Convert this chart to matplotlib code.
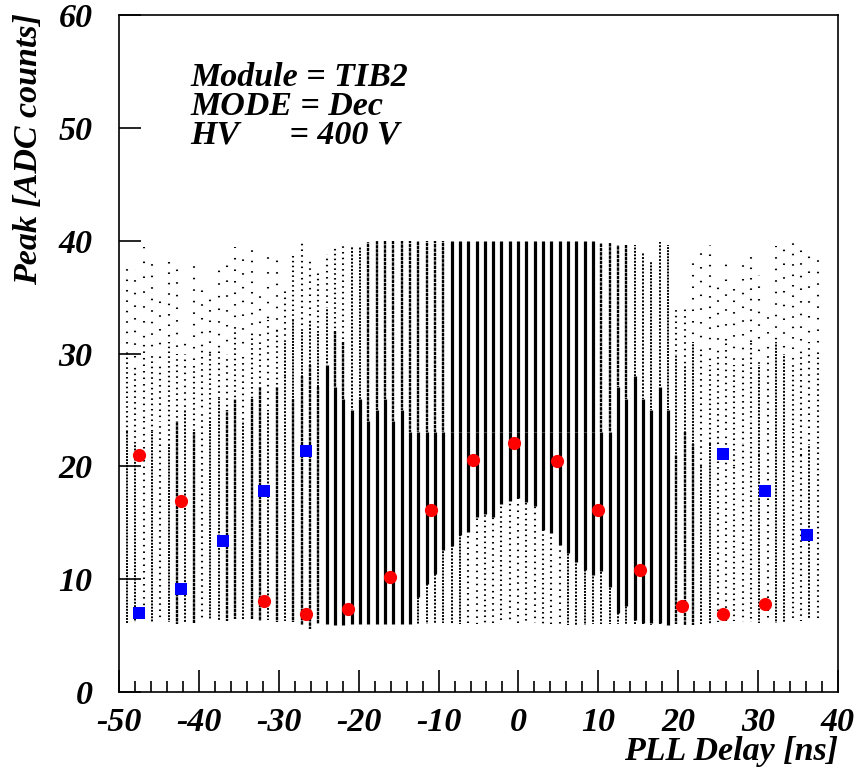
import numpy as np
import matplotlib
matplotlib.use("Agg")
import matplotlib.pyplot as plt
from matplotlib.ticker import MultipleLocator

plt.rcParams["font.family"] = "Liberation Serif"
plt.rcParams["font.weight"] = "bold"
plt.rcParams["font.style"] = "italic"
plt.rcParams["axes.unicode_minus"] = False
plt.rcParams["lines.scale_dashes"] = False

# PLL scan settings: one column of raw peaks per 25/24 ns step
delay_step = 25.0 / 24.0
delay_start = -49.0
n_steps = 84

# lowest / highest raw peak seen in each column
col_bottom = [6.1, 6.2, 6.3, 6.2, 6.3, 6.2, 6.0, 6.2, 6.1, 6.4,
              6.5, 6.4, 6.3, 6.5, 6.4, 6.5, 6.3, 6.4, 6.2, 6.3,
              6.2, 5.9, 5.6, 6.0, 6.0, 5.9, 5.9, 6.0, 6.0, 6.0,
              6.0, 6.0, 6.0, 6.0, 6.0, 6.0, 6.0, 6.0, 6.1, 6.0,
              6.0, 6.1, 6.0, 6.1, 6.1, 6.2, 6.2, 6.1, 6.2, 6.1,
              6.0, 6.0, 6.0, 5.9, 5.9, 5.9, 6.0, 6.0, 6.0, 6.0,
              6.0, 6.0, 6.0, 5.9, 5.9, 5.9, 6.0, 5.9, 5.9, 6.0,
              6.0, 6.2, 6.1, 6.3, 6.2, 6.2, 6.1, 6.4, 6.1, 6.2,
              6.4, 6.3, 6.5, 6.5]
col_top = [37.5, 37.5, 39.4, 38.3, 34.7, 38.8, 38.3, 31.7, 38.5, 36.6,
           34.9, 37.9, 38.6, 39.4, 38.9, 39.4, 35.2, 38.9, 39.0, 35.5,
           38.8, 39.8, 38.3, 37.2, 38.8, 39.5, 39.5, 39.4, 39.4, 39.9,
           40.0, 40.0, 40.0, 40.0, 40.0, 40.0, 40.0, 40.0, 40.0, 40.0,
           40.0, 40.0, 40.0, 40.0, 40.0, 40.0, 40.0, 40.0, 40.0, 40.0,
           40.0, 40.0, 40.0, 40.0, 40.0, 40.0, 40.0, 39.8, 39.8, 39.6,
           39.6, 39.6, 39.0, 38.2, 39.9, 39.6, 34.0, 33.9, 38.0, 39.0,
           39.6, 36.8, 38.8, 36.4, 38.5, 38.6, 37.0, 33.6, 39.5, 39.9,
           39.8, 39.8, 38.6, 38.6]

# each column split in three bands: [bottom, split1], [split1, split2], [split2, top]
col_split1 = [23, 22, 24, 23, 24, 22, 24, 25, 23, 25,
              24, 26, 25, 26, 24, 26, 27, 25, 27, 28,
              26, 28, 29, 27, 29, 27, 26, 25, 26, 24,
              25, 26, 24, 25, 23, 8.4, 9.6, 10.5, 12.6, 12.9,
              13.9, 14.2, 15.5, 15.8, 15.5, 16.7, 16.9, 17.2, 16.8, 16.5,
              14.4, 14.1, 13.0, 12.3, 11.5, 10.8, 10.4, 10.7, 9.3, 7.0,
              7.6, 6.4, 6.1, 6.1, 6.1, 5.9, 21, 23, 22, 20,
              22, 21, 23, 20, 22, 24, 21, 23, 22, 20,
              23, 21, 22, 21]
col_split2 = [30, 29, 31, 30, 29, 31, 30, 30, 29, 31,
              30, 31, 30, 32, 30, 32, 31, 33, 32, 31,
              33, 32, 33, 32, 34, 32, 31, 33, 31, 32,
              33, 32, 34, 33, 32, 23, 23, 23, 23, 23,
              23, 23, 23, 23, 23, 23, 23, 23, 23, 23,
              23, 23, 23, 23, 23, 23, 23, 23, 23, 27,
              26, 28, 26, 25, 27, 25, 30, 29, 31, 30,
              29, 30, 31, 29, 30, 31, 29, 30, 31, 30,
              29, 30, 31, 30]

# dot density of each band: 0 very sparse ... 3 dense, 4 solid
lvl_low = [2, 2, 1, 2, 1, 2, 3, 2, 3, 1,
           2, 2, 3, 3, 2, 3, 3, 2, 3, 2,
           3, 3, 3, 3, 4, 4, 4, 4, 4, 4,
           4, 4, 4, 4, 4, 2, 2, 2, 2, 2,
           2, 1, 1, 1, 1, 1, 1, 1, 1, 1,
           1, 1, 1, 2, 2, 2, 2, 2, 2, 2,
           2, 2, 2, 2, 2, 2, 3, 3, 3, 2,
           2, 1, 1, 1, 1, 1, 2, 1, 2, 2,
           1, 1, 2, 1]
lvl_mid = [1, 1, 1, 1, 1, 1, 1, 1, 1, 1,
           1, 1, 1, 1, 1, 1, 1, 1, 1, 2,
           2, 2, 2, 2, 2, 3, 3, 2, 2, 3,
           3, 3, 3, 3, 3, 4, 4, 4, 4, 4,
           4, 4, 4, 4, 4, 4, 4, 4, 4, 4,
           4, 4, 4, 4, 4, 4, 4, 4, 4, 4,
           4, 4, 4, 4, 4, 4, 2, 2, 2, 1,
           1, 1, 1, 1, 1, 1, 2, 1, 2, 2,
           1, 1, 1, 1]
lvl_high = [0, 0, 0, 0, 0, 0, 0, 0, 0, 0,
            0, 0, 0, 0, 0, 0, 0, 0, 0, 1,
            1, 1, 1, 1, 1, 1, 1, 2, 2, 3,
            3, 3, 3, 3, 3, 3, 3, 3, 3, 4,
            4, 4, 4, 4, 4, 4, 4, 4, 4, 4,
            4, 4, 4, 4, 4, 4, 4, 3, 3, 3,
            3, 2, 2, 2, 2, 2, 1, 1, 0, 0,
            0, 0, 0, 0, 0, 0, 0, 0, 0, 0,
            0, 0, 0, 0]

# fitted peak heights
red_x = [-47.5, -42.24, -31.8, -26.6, -21.3, -16.08, -10.95, -5.66, -0.53,
         4.78, 9.99, 15.24, 20.43, 25.63, 30.89]
red_y = [21.0, 16.9, 8.1, 6.9, 7.4, 10.2, 16.1, 20.6, 22.1,
         20.5, 16.1, 10.8, 7.6, 6.9, 7.8]
blue_x = [-47.5, -42.24, -37.02, -31.8, -26.6, 25.63, 30.89, 36.14]
blue_y = [7.0, 9.1, 13.4, 17.8, 21.4, 21.1, 17.8, 13.9]

# density level -> (linewidth, dash on, dash off)
LEVEL_STYLE = {
    0: (1.5, 1.1, 8.0),
    1: (1.5, 1.1, 3.0),
    2: (1.4, 1.4, 1.0),
    3: (1.7, 2.5, 0.5),
    4: (2.3, None, None),
}


def draw_band(ax, x, y0, y1, level, i):
    if y1 <= y0:
        return
    lw, on, off = LEVEL_STYLE[level]
    kw = dict(color="black", lw=lw, solid_capstyle="butt",
              dash_capstyle="butt", zorder=2)
    if on is not None:
        # stretch the gaps a little from column to column so rows don't line up
        off = off * (0.8 + 0.1 * ((i * 7) % 5))
        kw["linestyle"] = ((i * 3.7) % (on + off), (on, off))
    ax.plot([x, x], [y0, y1], **kw)


fig = plt.figure(figsize=(8.59, 7.69), dpi=100)
ax = fig.add_axes([119 / 859, 77 / 769, 719 / 859, 677 / 769])

col_x = delay_start + delay_step * np.arange(n_steps)
for i, x in enumerate(col_x):
    lo, hi = col_bottom[i], col_top[i]
    s1 = min(max(col_split1[i], lo), hi)
    s2 = min(max(col_split2[i], s1), hi)
    draw_band(ax, x, lo, s1, lvl_low[i], i)
    draw_band(ax, x, s1, s2, lvl_mid[i], i)
    draw_band(ax, x, s2, hi, lvl_high[i], i)

ax.plot(red_x, red_y, "o", color="#ff0000", ms=9.5, mew=0, zorder=4)
ax.plot(blue_x, blue_y, "s", color="#0000ff", ms=8.5, mew=0, zorder=4)

ax.set_xlim(-50, 40)
ax.set_ylim(0, 60)
ax.xaxis.set_major_locator(MultipleLocator(10))
ax.xaxis.set_minor_locator(MultipleLocator(2))
ax.yaxis.set_major_locator(MultipleLocator(10))
ax.tick_params(which="both", direction="in", top=False, right=False,
               width=1.2, labelsize=24.5)
ax.tick_params(axis="x", which="major", length=16, pad=11)
ax.tick_params(axis="x", which="minor", length=8)
ax.tick_params(axis="y", which="major", length=16, pad=19)
for lab in ax.get_xticklabels() + ax.get_yticklabels():
    lab.set_fontweight("bold")
    lab.set_fontstyle("italic")
for sp in ax.spines.values():
    sp.set_linewidth(1.2)

ax.text(-41.1, 48.6, "Module = TIB2\nMODE = Dec\nHV      = 400 V",
        va="baseline", ha="left", linespacing=0.9,
        fontsize=24.5, fontweight="bold", fontstyle="italic")

fig.text(838 / 859, 9 / 769, "PLL Delay [ns]", ha="right", va="baseline",
         fontsize=24.5, fontweight="bold", fontstyle="italic")
fig.text(44 / 859, 756 / 769, "Peak [ADC counts]", rotation=90, ha="right",
         va="top", fontsize=24.5, fontweight="bold", fontstyle="italic")

fig.savefig("out.png", dpi=100)
